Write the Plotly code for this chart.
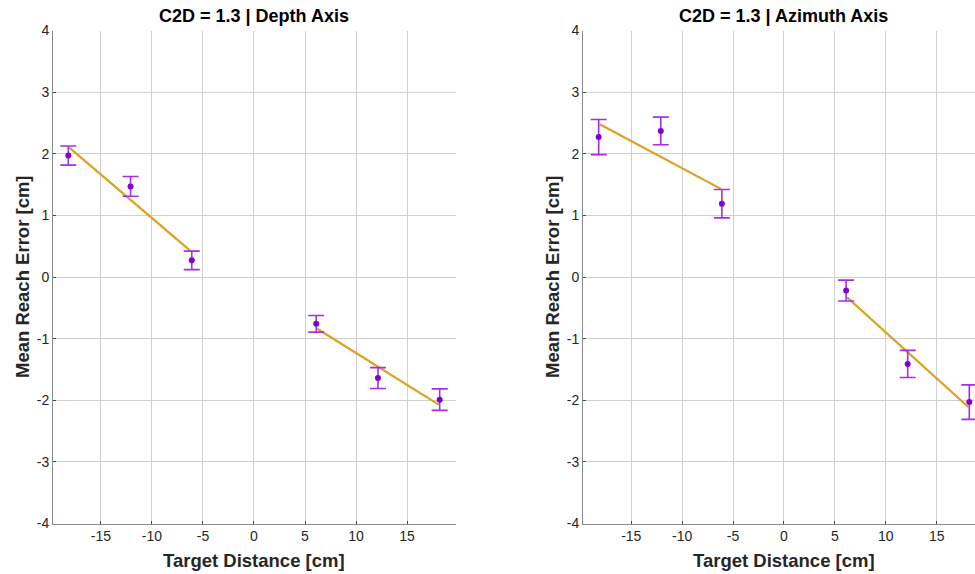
import plotly.graph_objects as go

# ---- data ----
target_x = [-18.2, -12.1, -6.1, 6.1, 12.15, 18.2]

depth_mean = [1.97, 1.47, 0.27, -0.76, -1.64, -1.99]
depth_err = [0.155, 0.16, 0.15, 0.135, 0.17, 0.175]
depth_fit_neg_x = [-18.1, -6.2]
depth_fit_neg_y = [2.10, 0.42]
depth_fit_pos_x = [6.2, 18.1]
depth_fit_pos_y = [-0.84, -2.07]

azim_mean = [2.27, 2.37, 1.19, -0.22, -1.41, -2.03]
azim_err = [0.285, 0.225, 0.23, 0.17, 0.22, 0.28]
azim_fit_neg_x = [-18.1, -6.2]
azim_fit_neg_y = [2.48, 1.43]
azim_fit_pos_x = [6.2, 18.1]
azim_fit_pos_y = [-0.33, -2.11]

titles = ["C2D = 1.3 | Depth Axis", "C2D = 1.3 | Azimuth Axis"]
x_title = "Target Distance [cm]"
y_title = "Mean Reach Error [cm]"
x_ticks = [-15, -10, -5, 0, 5, 10, 15]
x_ticklabels = ["-15", "-10", "-5", "0", "5", "10", "15"]
y_ticks = [-4, -3, -2, -1, 0, 1, 2, 3, 4]
y_ticklabels = ["-4", "-3", "-2", "-1", "0", "1", "2", "3", "4"]

MARKER = "#8200D2"
ERRC = "#A62CF0"
LINEC = "#DBA21E"
FONT = "Liberation Sans, Arial, Helvetica, sans-serif"

fig = go.Figure()

panels = [
    ("x", "y", depth_mean, depth_err, depth_fit_neg_x, depth_fit_neg_y, depth_fit_pos_x, depth_fit_pos_y),
    ("x2", "y2", azim_mean, azim_err, azim_fit_neg_x, azim_fit_neg_y, azim_fit_pos_x, azim_fit_pos_y),
]

for xa, ya, mean, err, nx, ny, px, py in panels:
    for fx, fy in ((nx, ny), (px, py)):
        fig.add_trace(go.Scatter(x=fx, y=fy, mode="lines", xaxis=xa, yaxis=ya,
                                 line=dict(color=LINEC, width=2.2), showlegend=False,
                                 hoverinfo="skip"))
    fig.add_trace(go.Scatter(x=target_x, y=mean, mode="markers", xaxis=xa, yaxis=ya,
                             marker=dict(color=MARKER, size=6),
                             error_y=dict(type="data", array=err, visible=True,
                                          color=ERRC, thickness=1.6, width=8),
                             showlegend=False))

axis_common = dict(
    showgrid=True, gridcolor="#d0d0d0", gridwidth=1,
    showline=True, linecolor="#8a8a8a", linewidth=1, mirror=False,
    ticks="inside", ticklen=3, tickcolor="#444444",
    zeroline=False, automargin=False,
    tickfont=dict(family=FONT, size=14, color="#262626"),
)

ydom = [(574 - 523.5) / 574, (574 - 30.5) / 574]

fig.update_layout(
    width=975, height=574,
    margin=dict(l=0, r=0, t=0, b=0, autoexpand=False),
    paper_bgcolor="white", plot_bgcolor="white",
    font=dict(family=FONT),
    xaxis=dict(domain=[53 / 975, 455.5 / 975], range=[-19.7, 19.75],
               tickvals=x_ticks, ticktext=x_ticklabels, **axis_common),
    yaxis=dict(domain=ydom, range=[-4, 4], tickvals=y_ticks, ticktext=y_ticklabels,
               anchor="x", **axis_common),
    xaxis2=dict(domain=[583 / 975, 1.0], range=[-19.74, 18.76],
                tickvals=x_ticks, ticktext=x_ticklabels, anchor="y2", **axis_common),
    yaxis2=dict(domain=ydom, range=[-4, 4], tickvals=y_ticks, ticktext=y_ticklabels,
                anchor="x2", **axis_common),
)

ann = []
for xref, t in (("x", titles[0]), ("x2", titles[1])):
    ann.append(dict(x=0, y=(574 - 16) / 574, xref=xref, yref="paper", text="<b>%s</b>" % t,
                    showarrow=False, font=dict(family=FONT, size=18, color="black"),
                    xanchor="center", yanchor="middle"))
    ann.append(dict(x=0, y=(574 - 560) / 574, xref=xref, yref="paper", text="<b>%s</b>" % x_title,
                    showarrow=False, font=dict(family=FONT, size=18.5, color="#262626"),
                    xanchor="center", yanchor="middle"))
for xp in (22, 552):
    ann.append(dict(x=xp / 975, y=(574 - 277) / 574, xref="paper", yref="paper",
                    text="<b>%s</b>" % y_title, textangle=-90, showarrow=False,
                    font=dict(family=FONT, size=18.5, color="#262626"),
                    xanchor="center", yanchor="middle"))
fig.update_layout(annotations=ann)

fig.write_html("out.html")
